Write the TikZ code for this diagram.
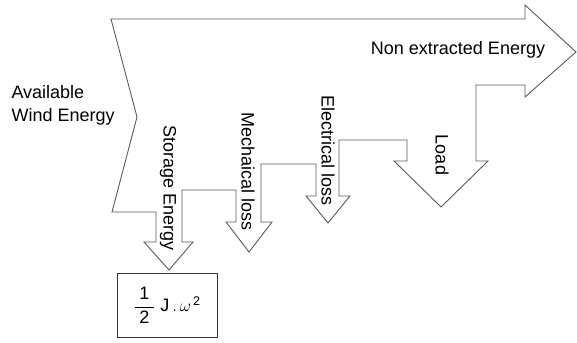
\documentclass[tikz,border=0pt]{standalone}
\usepackage{amsmath}
\usepackage{fontspec}
\setmainfont{Liberation Sans}
\usepackage{tikz}
\usetikzlibrary{positioning}

\begin{document}
\begin{tikzpicture}[x=1pt,y=-1pt,font=\fontsize{18}{23}\selectfont]
\useasboundingbox (0,0) rectangle (577,342);
% energy flow outline
\draw[black!65,line width=0.9pt,line join=miter]
  (111,19) -- (525,19) -- (525,5) -- (576,52) -- (525,97) -- (525,85)
  -- (476,85) -- (476,161) -- (488,161) -- (441,207) -- (394,161) -- (407,161) -- (407,140)
  -- (339,140) -- (339,196) -- (350,196) -- (328,223) -- (306,196) -- (316,196) -- (316,164)
  -- (261,164) -- (261,222) -- (272,222) -- (249,252) -- (226,222) -- (236,222) -- (236,190)
  -- (182,190) -- (182,242) -- (193,242) -- (169,270) coordinate (sttip) -- (144,242) -- (156,242) -- (156,212)
  -- (112,212) -- (137,117) -- cycle;
\node[align=left,anchor=west] (wind) at (8,105) {Available\\Wind Energy};
\node (nonext) at (458,50) {Non extracted Energy};
\node[rotate=-90] (store) at (168,188) {Storage Energy};
\node[rotate=-90] (mech) at (248,172) {Mechaical loss};
\node[rotate=-90] (elec) at (328,151) {Electrical loss};
\node[rotate=-90] (load) at (442,155) {Load};
\node[draw=black!80,line width=0.9pt,minimum width=100pt,minimum height=64pt,below=3pt of sttip,xshift=-2pt] (kin)
  {$\dfrac{\;\text{1}\;}{\;\text{2}\;}\ \text{J}\,.\,\omega^{\,\text{2}}$};
\end{tikzpicture}
\end{document}
